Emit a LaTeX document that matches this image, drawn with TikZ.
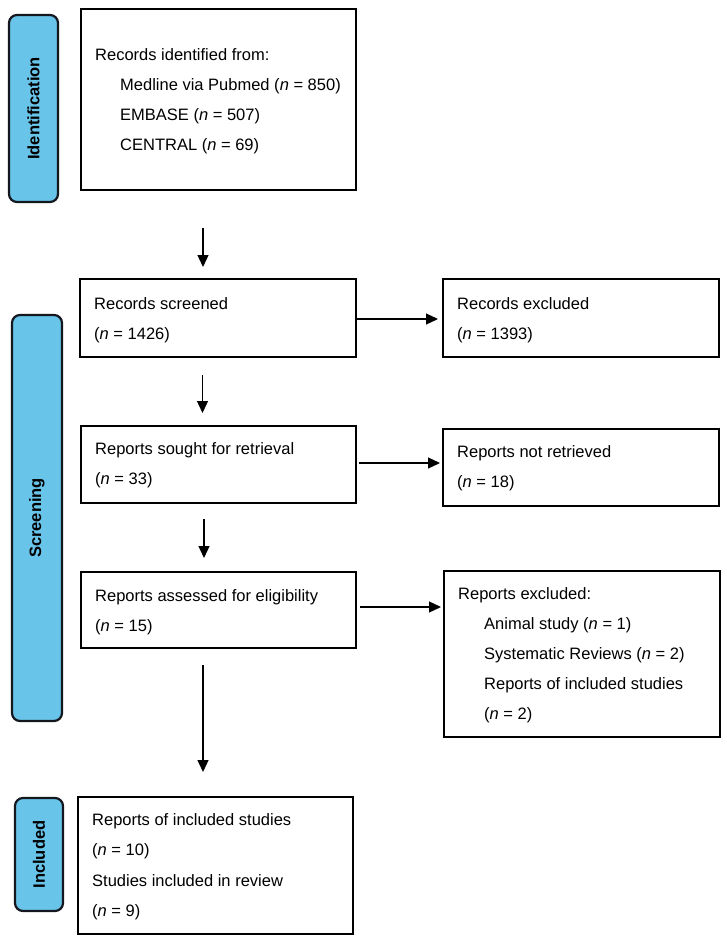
\documentclass[tikz,border=0pt]{standalone}
\usepackage{fontspec}
\setmainfont{Liberation Sans}
\usetikzlibrary{arrows.meta}
\definecolor{tabblue}{RGB}{105,196,234}
\definecolor{tabedge}{RGB}{20,24,30}
\newcommand{\nvar}{\textit{n}}
\tikzset{
  box/.style={draw=black, line width=2pt, fill=white, inner sep=0pt},
  tab/.style={draw=tabedge, line width=2.2pt, fill=tabblue, rounded corners=8pt, inner sep=0pt},
  tablabel/.style={font=\fontsize{16.5}{20}\selectfont\bfseries, rotate=90, inner sep=0pt, text=black},
  txt/.style={font=\fontsize{16.5}{20}\selectfont, anchor=base west, inner sep=0pt},
  arr/.style={line width=1.3pt, -{Triangle[length=12pt,width=11pt]}}
}
\begin{document}
\begin{tikzpicture}[x=1pt,y=-1pt]
\useasboundingbox (0,0) rectangle (726,940);
% side tabs
\draw[tab] (9,15) rectangle (58,202);
\node[tablabel] (tid) at (33.5,108.5) {Identification};
\draw[tab] (12,315) rectangle (62,721);
\node[tablabel] (tsc) at (37,518) {Screening};
\draw[tab] (15,798) rectangle (63,911);
\node[tablabel] (tin) at (39,854.5) {Included};
% boxes
\node[box, minimum width=275pt, minimum height=181pt, anchor=north west] (b1) at (80,8) {};
\node[box, minimum width=276pt, minimum height=78pt, anchor=north west] (b2) at (79,278) {};
\node[box, minimum width=275pt, minimum height=77pt, anchor=north west] (b3) at (80,425) {};
\node[box, minimum width=275pt, minimum height=76pt, anchor=north west] (b4) at (80,571) {};
\node[box, minimum width=275pt, minimum height=137pt, anchor=north west] (b5) at (77,796) {};
\node[box, minimum width=276pt, minimum height=78pt, anchor=north west] (r1) at (442,278) {};
\node[box, minimum width=276pt, minimum height=77pt, anchor=north west] (r2) at (442,428) {};
\node[box, minimum width=276pt, minimum height=166pt, anchor=north west] (r3) at (443,570) {};
% texts box 1
\node[txt] (t11) at (95,60) {Records identified from:};
\node[txt] (t12) at (120,90) {Medline via Pubmed (\nvar{} = 850)};
\node[txt] (t13) at (120,120) {EMBASE (\nvar{} = 507)};
\node[txt] (t14) at (120,150) {CENTRAL (\nvar{} = 69)};
% box 2
\node[txt] (t21) at (94,309) {Records screened};
\node[txt] (t22) at (94,339) {(\nvar{} = 1426)};
% box 3
\node[txt] (t31) at (95,454) {Reports sought for retrieval};
\node[txt] (t32) at (95,484) {(\nvar{} = 33)};
% box 4
\node[txt] (t41) at (95,601) {Reports assessed for eligibility};
\node[txt] (t42) at (95,631) {(\nvar{} = 15)};
% box 5
\node[txt] (t51) at (92,825) {Reports of included studies};
\node[txt] (t52) at (92,855) {(\nvar{} = 10)};
\node[txt] (t53) at (92,886) {Studies included in review};
\node[txt] (t54) at (92,916) {(\nvar{} = 9)};
% right boxes
\node[txt] (u11) at (457,309) {Records excluded};
\node[txt] (u12) at (457,339) {(\nvar{} = 1393)};
\node[txt] (u21) at (457,457) {Reports not retrieved};
\node[txt] (u22) at (457,487) {(\nvar{} = 18)};
\node[txt] (u31) at (458,599) {Reports excluded:};
\node[txt] (u32) at (484,629) {Animal study (\nvar{} = 1)};
\node[txt] (u33) at (484,659) {Systematic Reviews (\nvar{} = 2)};
\node[txt] (u34) at (484,689) {Reports of included studies};
\node[txt] (u35) at (484,719) {(\nvar{} = 2)};
% vertical arrows
\draw[arr, shorten <=37pt, shorten >=11pt] ([xshift=-15.5pt]b1.south) -- ([xshift=-15.5pt]b1.south |- b2.north);
\draw[arr, shorten <=17pt, shorten >=12pt] ([xshift=-15.5pt]b2.south) -- ([xshift=-15.5pt]b2.south |- b3.north);
\draw[arr, shorten <=15pt, shorten >=13pt] ([xshift=-14.5pt]b3.south) -- ([xshift=-14.5pt]b3.south |- b4.north);
\draw[arr, shorten <=16pt, shorten >=24pt] ([xshift=-15.5pt]b4.south) -- ([xshift=-15.5pt]b4.south |- b5.north);
% horizontal arrows
\draw[arr, shorten >=4pt] ([yshift=-1pt]b2.east) -- ([yshift=-1pt]b2.east -| r1.west);
\draw[arr, shorten <=2pt, shorten >=2pt] ([yshift=1.5pt]b3.east) -- ([yshift=1.5pt]b3.east -| r2.west);
\draw[arr, shorten <=3pt, shorten >=2pt] ([yshift=3pt]b4.east) -- ([yshift=3pt]b4.east -| r3.west);
\end{tikzpicture}
\end{document}
